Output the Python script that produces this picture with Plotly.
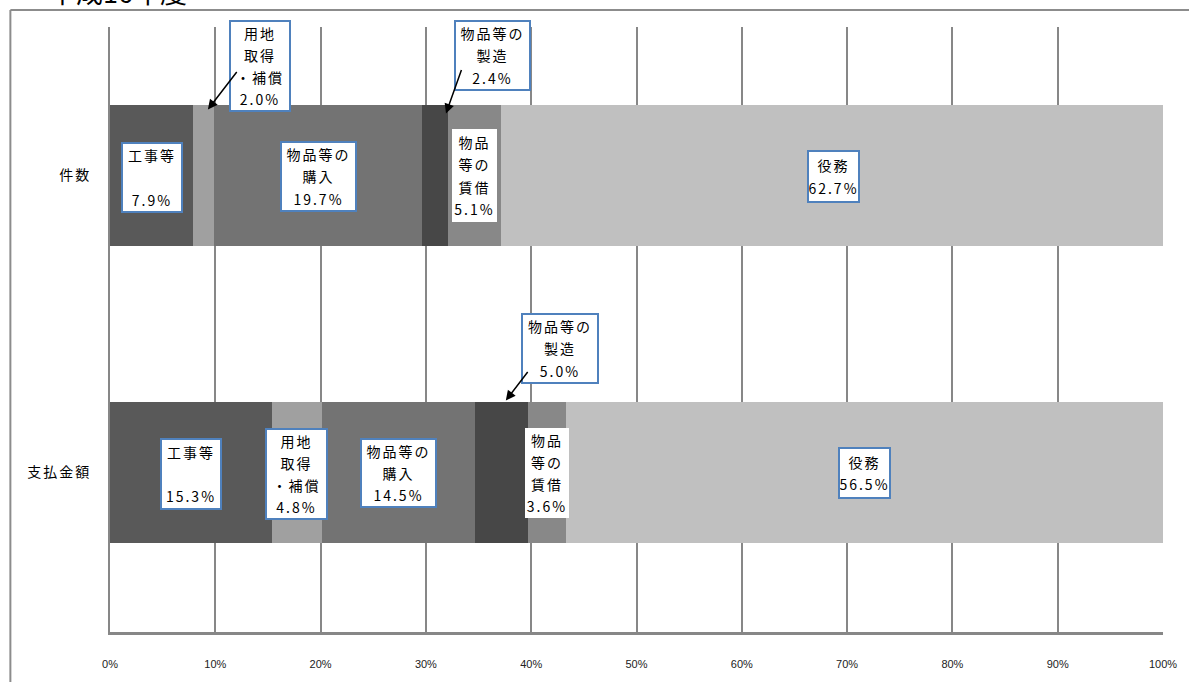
import plotly.graph_objects as go

# 契約区分ごとの構成比（%）
categories = ["件数", "支払金額"]
segments = ["工事等", "用地取得・補償", "物品等の購入", "物品等の製造", "物品等の賃借", "役務"]
count_share = [7.9, 2.0, 19.7, 2.4, 5.1, 62.7]
amount_share = [15.3, 4.8, 14.5, 5.0, 3.6, 56.5]
# ラベル用の改行入り区分名
label_lines = [
    ["工事等", ""],
    ["用地", "取得", "・補償"],
    ["物品等の", "購入"],
    ["物品等の", "製造"],
    ["物品", "等の", "賃借"],
    ["役務"],
]
x_ticks = [0, 10, 20, 30, 40, 50, 60, 70, 80, 90, 100]

colors = ["#595959", "#a0a0a0", "#737373", "#474747", "#888888", "#c0c0c0"]
BOX_BLUE = "#4f81bd"
GRID = "#878787"
JP = "Noto Sans CJK JP"

fig = go.Figure()
for i, name in enumerate(segments):
    fig.add_trace(go.Bar(
        y=categories,
        x=[count_share[i], amount_share[i]],
        orientation="h",
        name=name,
        marker=dict(color=colors[i], line=dict(width=0)),
        hoverinfo="name+x",
    ))

# 各ラベル枠の配置（px）：xshift, yshift, 幅, 高さ, 枠線あり
label_layout = {
    "件数": [
        (0, -2, 58, 67, True),
        (56, 110, 58, 88, True),
        (0, -1, 73, 67, True),
        (58, 120, 73, 67, True),
        (0, 0, 43, 91, False),
        (1, -1, 49, 49, True),
    ],
    "支払金額": [
        (0, -1, 58, 68, True),
        (0, -1, 59, 88, True),
        (0, 0, 73, 66, True),
        (58, 124, 74, 67, True),
        (0, 0, 42, 88, False),
        (0, 0, 49, 48, True),
    ],
}
# 小さい区分を指す矢印：区分番号, 先端の xshift/yshift, 尾の相対位置 (ax, ay)
arrow_layout = {
    "件数": [(1, 4, 66, 30, -39), (3, 11, 62, 16, -45)],
    "支払金額": [(3, 4, 72, 23, -30)],
}


def span(s):
    if not s:
        return ""
    return f'<span style="font-size:14px;letter-spacing:2px">{s}</span>'


annotations = []
for cat, shares in zip(categories, [count_share, amount_share]):
    total = sum(shares)
    norm = [v / total * 100 for v in shares]
    centers = []
    acc = 0.0
    for v in norm:
        centers.append(acc + v / 2)
        acc += v
    for i, v in enumerate(shares):
        xs, ys, w, h, framed = label_layout[cat][i]
        lines = label_lines[i] + [f"{v:.1f}%"]
        annotations.append(dict(
            x=centers[i], y=cat, xref="x", yref="y",
            text="<br>".join(span(s) for s in lines),
            showarrow=False, xshift=xs, yshift=ys,
            width=w, height=h, align="center", valign="middle",
            font=dict(family=JP, size=17, color="black"),
            bgcolor="white",
            bordercolor=BOX_BLUE if framed else "rgba(0,0,0,0)",
            borderwidth=2, borderpad=0,
        ))
    for idx, xs, ys, ax, ay in arrow_layout[cat]:
        annotations.append(dict(
            x=centers[idx], y=cat, xref="x", yref="y",
            text="", showarrow=True, xshift=xs, yshift=ys,
            ax=ax, ay=ay, axref="pixel", ayref="pixel",
            arrowhead=2, arrowsize=1.3, arrowwidth=1.5,
            arrowcolor="black", standoff=0, startstandoff=0,
        ))

# 年度見出し（上端で切れて表示される）
annotations.append(dict(
    x=-0.06, y=1.058, xref="paper", yref="paper",
    text="平成16年度", showarrow=False, xanchor="left", yanchor="middle",
    font=dict(family=JP, size=27, color="black"),
))

L, R, T, B = 110, 22, 27, 50
W, H = 1189, 682
pw, ph = W - L - R, H - T - B


def px(xp):
    return (xp - L) / pw


def py(yp):
    return (H - B - yp) / ph


# グラフ全体の外枠（上辺と左辺）
frame = dict(color="#8c8c8c", width=2)
shapes = [
    dict(type="line", xref="paper", yref="paper",
         x0=px(10), x1=px(W + 5), y0=py(10), y1=py(10), line=frame),
    dict(type="line", xref="paper", yref="paper",
         x0=px(10), x1=px(10), y0=py(10), y1=py(H + 5), line=frame),
]

fig.update_layout(
    width=W, height=H,
    margin=dict(l=L, r=R, t=T, b=B),
    barmode="stack", barnorm="percent", bargap=0.524,
    showlegend=False,
    plot_bgcolor="white", paper_bgcolor="white",
    annotations=annotations, shapes=shapes,
    xaxis=dict(
        range=[0, 100], tickvals=x_ticks,
        ticktext=[f"{t}%" for t in x_ticks],
        showgrid=True, gridcolor=GRID, gridwidth=2,
        showline=True, linecolor=GRID, linewidth=3,
        zeroline=False, ticks="", ticklabelstandoff=20,
        tickfont=dict(family="Liberation Sans", size=11, color="#222"),
    ),
    yaxis=dict(
        autorange="reversed", showgrid=False,
        showline=True, linecolor=GRID, linewidth=2,
        ticks="", ticklabelstandoff=14,
        tickvals=categories,
        ticktext=[f'<span style="letter-spacing:2px">{c}</span>' for c in categories],
        tickfont=dict(family=JP, size=14, color="black"),
    ),
)

fig.write_html("out.html")
